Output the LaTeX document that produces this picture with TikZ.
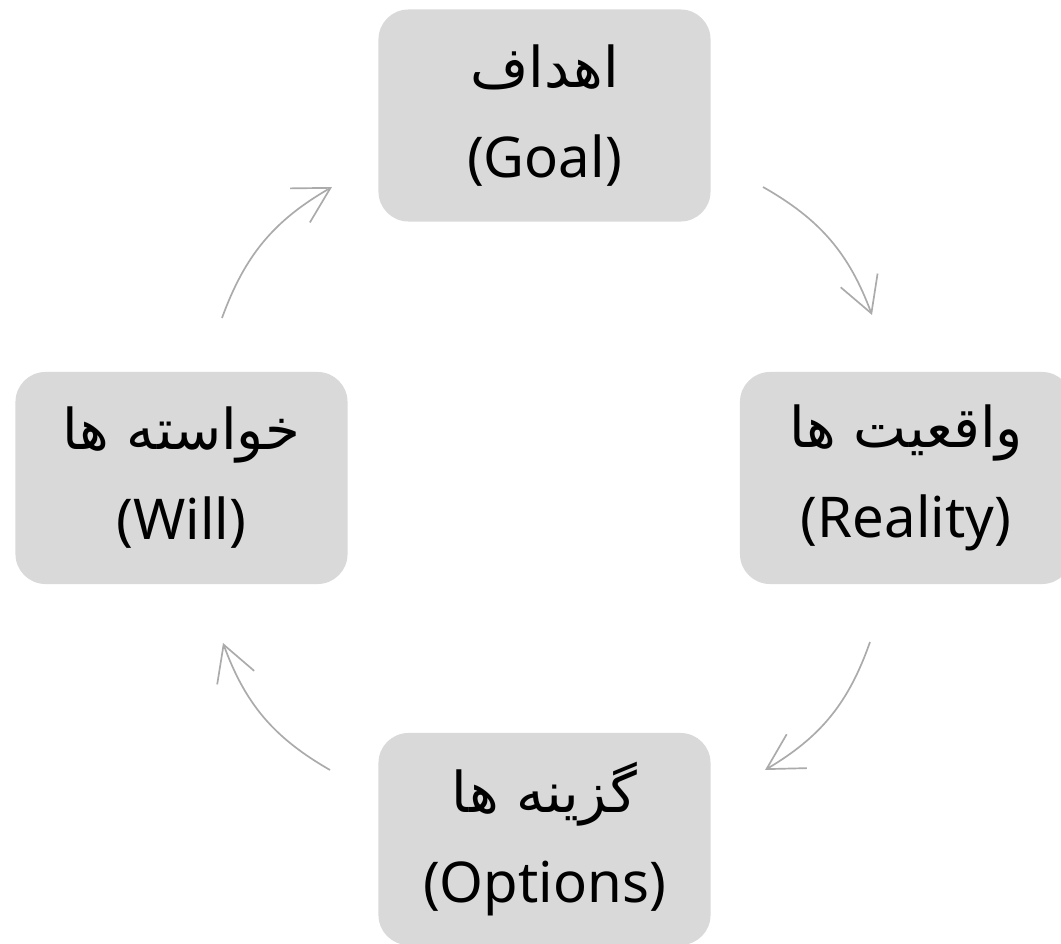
\documentclass[tikz,border=0pt]{standalone}
\usepackage{fontspec}
\setmainfont{Noto Sans}
\newfontfamily\arabicfont[Script=Arabic]{DejaVu Sans}
\TeXXeTstate=1
\usetikzlibrary{arrows.meta}

\definecolor{boxgray}{HTML}{D9D9D9}
\definecolor{arrowgray}{HTML}{ABABAB}

\tikzset{
    stage/.style={fill=boxgray, rounded corners=0.75cm, minimum width=8.3cm,
        minimum height=5.3cm, align=center, inner sep=0pt,
        font=\fontsize{40}{64}\selectfont},
    cycle arrow/.style={draw=arrowgray, line width=1.2pt,
        -{Straight Barb[length=25pt,width=28pt]}, bend left=20}
}

\begin{document}
\begin{tikzpicture}[x=0.025cm, y=-0.025cm] %Ciclo GROW
        \useasboundingbox (0,0) rectangle (1061,944);

        \node[stage] (goal) at (544.5,115.5) {{\arabicfont\beginR اهداف\endR}\\(Goal)};
        \node[stage] (reality) at (906,478) {{\arabicfont\beginR واقعیت ها\endR}\\(Reality)};
        \node[stage] (options) at (544.5,839) {{\arabicfont\beginR گزینه ها\endR}\\(Options)};
        \node[stage] (will) at (181.5,478) {{\arabicfont\beginR خواسته ها\endR}\\(Will)};

        \coordinate (gr0) at (763,187);
        \coordinate (gr1) at (872,315);
        \coordinate (ro0) at (870,642);
        \coordinate (ro1) at (765,770);
        \coordinate (ow0) at (330,770);
        \coordinate (ow1) at (223,643);
        \coordinate (wg0) at (222,318);
        \coordinate (wg1) at (332,187);

        \draw[cycle arrow] (gr0) to (gr1);
        \draw[cycle arrow] (ro0) to (ro1);
        \draw[cycle arrow] (ow0) to (ow1);
        \draw[cycle arrow] (wg0) to (wg1);
    \end{tikzpicture}
\end{document}
